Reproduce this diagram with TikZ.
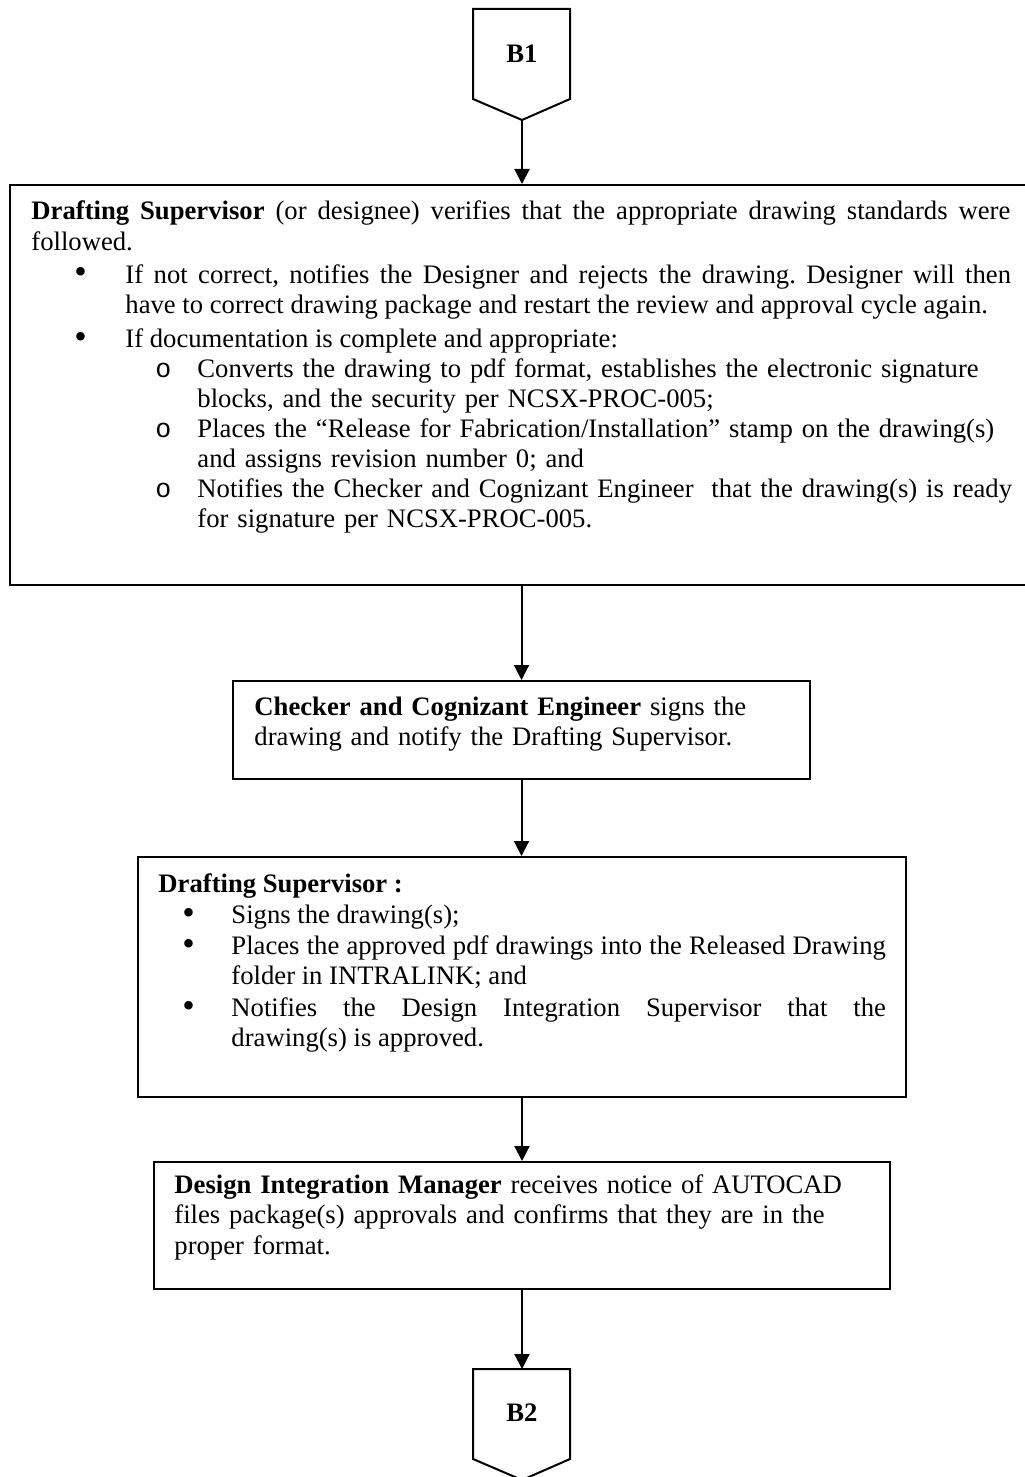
\documentclass[tikz,border=0pt]{standalone}
\usepackage{fontspec}
\setmainfont{Liberation Serif}
\newfontfamily\monofam{Liberation Mono}
\usetikzlibrary{arrows.meta,fit}
\begin{document}
\frenchspacing
\begin{tikzpicture}[x=0.45pt,y=-0.45pt,
  box/.style={draw,line width=0.9pt,inner sep=0pt},
  shp/.style={draw,line width=0.9pt},
  arr/.style={line width=0.9pt,-{Triangle[length=6.75pt,width=6.75pt]}},
  txt/.style={inner sep=0pt,anchor=base west,font=\fontsize{12}{13.8}\selectfont},
  bul/.style={inner sep=0pt,anchor=base west,font=\fontsize{16}{16}\selectfont},
  jt/.style={txt,align=justify},
  lt/.style={txt,align=left},
  lbl/.style={inner sep=0pt,font=\fontsize{12}{14}\selectfont\bfseries}]
\clip (0,0) rectangle (1025,1477);
% connector boxes B1 / B2
\node[lbl] (b1) at (522,54) {B1};
\draw[shp] (473,9) -- (570,9) -- (570,99) -- (522,120) -- (473,99) -- cycle;
\coordinate (b1tip) at (522,120);
\node[lbl] (b2) at (522,1413) {B2};
\draw[shp] (473,1369) -- (570,1369) -- (570,1459) -- (522,1480) -- (473,1459) -- cycle;
\coordinate (b2top) at (522,1369);
% boxes
\node[box,fit={(10,185)(1040,585)}] (box1) {};
\node[box,fit={(233,681)(810,779)}] (box2) {};
\node[box,fit={(138,857)(906,1097)}] (box3) {};
\node[box,fit={(154,1162)(890,1289)}] (box4) {};
% box 1 text
\node[jt,text width=440.5pt] (t1) at (31,220) {\textbf{Drafting Supervisor} (or designee) verifies that the appropriate drawing standards were\linebreak followed.};
\node[bul] (bu1) at (74,284) {\textbullet};
\node[jt,text width=398.5pt] (t2) at (125,283) {If not correct, notifies the Designer and rejects the drawing. Designer will then\linebreak have to correct drawing package and restart the review and approval cycle again.};
\node[bul] (bu2) at (74,348) {\textbullet};
\node[txt] (t3) at (125,347) {If documentation is complete and appropriate:};
\node[txt] (o1) at (155,377) {\monofam o};
\node[lt,text width=420pt] (t4) at (197,377) {Converts the drawing to pdf format, establishes the electronic signature\\blocks, and the security per NCSX-PROC-005;};
\node[txt] (o2) at (155,437) {\monofam o};
\node[lt,text width=420pt] (t5) at (197,437) {Places the \textquotedblleft Release for Fabrication/Installation\textquotedblright\ stamp on the drawing(s)\\and assigns revision number 0; and};
\node[txt] (o3) at (155,497) {\monofam o};
\node[lt,text width=420pt] (t6) at (197,497) {Notifies the Checker and Cognizant Engineer\ \ that the drawing(s) is ready\\for signature per NCSX-PROC-005.};
% box 2 text
\node[lt,text width=240pt] (t7) at (254,715) {\textbf{Checker and Cognizant Engineer} signs the\\drawing and notify the Drafting Supervisor.};
% box 3 text
\node[txt] (t8) at (158,892) {\textbf{Drafting Supervisor :}};
\node[bul] (bu3) at (182,924) {\textbullet};
\node[txt] (t9) at (231,923) {Signs the drawing(s);};
\node[bul] (bu4) at (182,955) {\textbullet};
\node[jt,text width=294.5pt] (t10) at (231,954) {Places the approved pdf drawings into the Released Drawing\linebreak folder in INTRALINK; and};
\node[bul] (bu5) at (182,1017) {\textbullet};
\node[jt,text width=294.5pt] (t11) at (231,1016) {Notifies the Design Integration Supervisor that the\linebreak drawing(s) is approved.};
% box 4 text
\node[lt,text width=305pt] (t12) at (174,1193) {\textbf{Design Integration Manager} receives notice of AUTOCAD\\files package(s) approvals and confirms that they are in the\\proper format.};
% connectors
\draw[arr] (b1tip) -- (b1tip |- box1.north);
\draw[arr] (box2.north |- box1.south) -- (box2.north);
\draw[arr] (box2.south) -- (box2.south |- box3.north);
\draw[arr] (box3.south) -- (box3.south |- box4.north);
\draw[arr] (box4.south) -- (b2top);
\end{tikzpicture}
\end{document}
